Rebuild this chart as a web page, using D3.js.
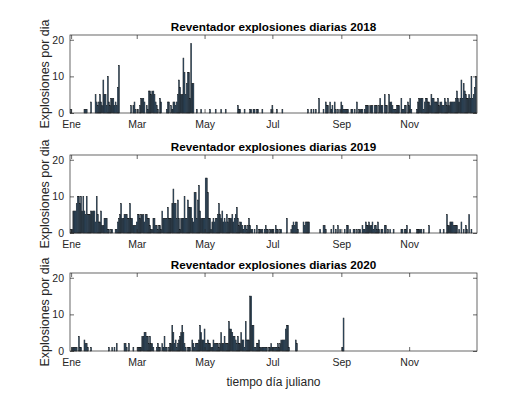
<!DOCTYPE html>
<html><head><meta charset="utf-8">
<script src="https://cdn.jsdelivr.net/npm/d3@7"></script>
<style>body{margin:0;background:#fff}svg{display:block}</style>
</head><body>
<script>
// [day of year, explosions]
const series2018 = [[1,1],[13,1],[14,1],[15,1],[19,3],[23,5],[24,3],[25,2],[26,3],[27,5],[28,3],[29,2],[30,9],[31,5],[32,5],[33,2],[34,10],[35,3],[36,2],[37,4],[38,4],[39,4],[40,2],[41,3],[42,2],[43,7],[44,13],
[55,2],[57,2],[58,3],[59,1],[61,1],[63,2],[64,4],[65,4],[66,4],[67,3],[69,2],[70,1],[71,6],[72,6],[73,5],[74,6],[75,6],[76,5],[77,3],[78,2],[79,1],[81,4],[82,3],[87,1],[88,3],[89,3],[91,2],[92,1],[93,3],[94,3],[95,2],[96,3],[97,5],[98,9],[99,7],[100,5],[101,5],[102,15],[103,11],[104,5],[105,8],[106,11],[107,11],[108,4],[109,19],[110,8],[111,8],
[114,1],[118,1],[126,1],[131,1],[136,1],[140,1],[151,2],[152,1],[153,1],[157,1],[162,1],[163,1],[165,1],[166,1],[168,1],[169,1],[173,1],[181,1],[182,2],[186,1],[191,1],
[214,1],[217,1],[219,1],[221,1],[224,4],[228,1],[230,3],[231,2],[232,2],[234,3],[235,1],[236,2],[238,3],[239,1],[241,1],[243,1],[244,3],[245,2],[246,1],[247,1],[248,1],[249,1],[250,1],[253,1],[254,1],[256,1],[258,3],[260,1],[261,1],[262,1],[263,1],[265,1],[266,2],[267,2],[268,2],[270,2],[271,2],[272,2],[274,2],[275,2],[276,2],[278,2],[279,4],[280,2],[281,2],[283,5],[284,2],[285,2],[287,5],[288,3],[289,3],[290,2],[291,1],[292,1],[293,1],[294,2],[295,2],[296,2],[298,4],[299,1],[300,1],[301,2],[302,2],[304,3],[305,2],[306,4],[307,1],[312,1],[313,3],[314,4],[315,4],[316,4],[317,4],[318,1],[319,3],[320,4],[321,4],[322,3],[323,3],[324,2],[325,5],[326,4],[327,4],[328,3],[329,3],[330,3],[331,4],[332,2],[333,3],[334,3],[335,2],[336,2],[337,4],[338,3],[339,2],[340,4],[341,2],[342,3],[343,3],[344,3],[345,3],[346,3],[347,4],[348,6],[349,4],[350,3],[351,4],[352,9],[353,4],[354,8],[355,6],[356,5],[357,4],[358,4],[359,5],[360,4],[361,10],[362,4],[363,5],[364,7],[365,10]];

const series2019 = [[1,1],[2,1],[3,6],[4,6],[5,6],[6,8],[7,10],[8,10],[9,8],[10,10],[11,6],[12,10],[13,6],[14,5],[15,10],[16,5],[17,5],[18,5],[19,6],[20,6],[21,6],[22,6],[23,3],[24,10],[25,5],[26,3],[27,3],[28,6],[29,2],[30,2],[31,4],[32,4],[33,4],[34,1],[35,1],[37,1],[38,1],[41,1],[42,1],[43,3],[44,4],[45,5],[46,8],[47,4],[48,4],[49,5],[50,5],[51,5],[52,4],[53,4],[54,8],[55,4],[56,4],[57,2],[58,2],[59,2],[60,3],[61,5],[62,5],[63,4],[64,5],[65,5],[66,5],[67,3],[68,5],[69,5],[70,4],[71,4],[72,2],[73,1],[74,1],[75,4],[76,4],[77,2],[78,2],[79,1],[80,2],[81,2],[82,1],[83,6],[84,4],[85,4],[86,4],[87,4],[88,7],[89,4],[90,4],[91,4],[92,8],[93,12],[94,8],[95,8],[96,4],[97,9],[98,4],[99,1],[100,4],[101,4],[102,4],[103,10],[104,4],[105,4],[106,9],[107,7],[108,7],[109,7],[110,4],[111,3],[112,11],[113,11],[114,4],[115,9],[116,13],[117,6],[118,4],[119,4],[120,4],[121,4],[122,15],[123,15],[124,11],[125,4],[126,4],[127,1],[128,3],[129,4],[130,3],[131,4],[132,4],[133,5],[134,8],[135,5],[136,4],[137,6],[138,3],[139,4],[140,3],[141,5],[142,3],[143,4],[144,4],[145,4],[146,5],[147,3],[148,4],[149,5],[150,7],[151,4],[152,2],[153,3],[154,3],[155,2],[156,1],[157,2],[158,2],[159,1],[160,2],[161,4],[162,2],[163,1],[164,1],[166,1],[168,2],[170,1],[171,1],[172,1],[173,1],[175,1],[176,2],[177,1],[178,1],[180,1],[181,1],[182,1],[183,1],[185,2],[186,1],[187,1],[189,1],
[190,1],[195,4],[199,1],[200,2],[201,3],[202,2],[203,3],[204,3],[205,1],[210,3],[211,2],[212,3],[213,3],[214,3],[215,3],
[225,1],[228,2],[229,2],[230,1],[235,1],[237,2],[239,1],[241,2],[243,1],[247,1],[249,2],[250,2],[252,1],[255,1],[256,1],[258,1],[260,1],[261,1],[263,2],[264,1],[265,1],[266,3],[267,2],[268,2],[269,3],[270,2],[271,2],[272,3],[273,1],[274,2],[275,2],[276,1],[277,3],[278,1],[280,1],[281,1],[283,2],[284,2],[286,1],[288,1],[291,1],[298,1],[299,1],[301,1],[302,1],[303,2],[306,1],[312,1],[313,1],[314,1],[315,1],[316,1],[318,1],[323,2],[333,1],[336,1],[339,5],[340,2],[341,2],[342,3],[343,3],[344,3],[345,2],[346,2],[347,2],[348,2],[350,1],[352,3],[354,1],[356,2],[357,1],[359,5],[361,1]];

const series2020 = [[2,1],[3,1],[4,1],[5,1],[6,1],[8,4],[9,1],[10,1],[13,3],[14,2],[15,2],[16,1],[19,1],[35,1],[38,1],[40,1],[42,2],[49,2],[50,2],[51,1],[53,2],[57,1],[61,1],[62,1],[63,1],[64,1],[65,4],[66,4],[67,5],[68,5],[69,4],[70,4],[71,2],[72,4],[73,2],[74,2],[75,1],[78,1],[79,2],[80,1],[81,1],[83,2],[84,1],[85,4],[86,1],[87,1],[89,1],[90,2],[91,2],[92,7],[93,5],[94,2],[95,3],[96,1],[97,2],[98,3],[99,4],[100,5],[101,7],[102,5],[103,2],[104,1],[106,1],[107,1],[108,1],[110,3],[111,2],[112,1],[113,2],[114,2],[115,2],[116,3],[117,7],[118,5],[119,3],[120,3],[121,6],[122,2],[123,2],[124,3],[125,2],[126,2],[127,1],[128,1],[129,3],[130,2],[131,2],[132,2],[133,2],[134,1],[135,2],[136,5],[137,2],[138,2],[139,4],[140,2],[141,2],[142,2],[143,8],[144,6],[145,6],[146,5],[147,4],[148,4],[149,3],[150,2],[151,4],[152,2],[153,2],[154,5],[155,3],[156,3],[157,1],[158,8],[159,3],[160,3],[161,3],[162,15],[163,15],[164,7],[165,7],[166,1],[167,1],[168,2],[169,2],[170,3],[171,1],[172,1],[173,1],[174,1],[175,1],[176,1],[177,1],[179,1],[180,1],[181,2],[182,1],[183,1],[184,1],[185,1],[186,1],[187,2],[188,1],[189,2],[190,3],[191,3],[192,3],[193,3],[194,6],[195,7],[196,7],[197,1],[203,3],[204,2],[245,1],[246,9]];

const years = [2018, 2019, 2020];
const allSeries = [series2018, series2019, series2020];
const monthTickDays = [1, 60, 121, 182, 244, 305];
const monthTickLabels = ["Ene", "Mar", "May", "Jul", "Sep", "Nov"];
const yTicks = [0, 10, 20];
const titlePrefix = "Reventador explosiones diarias ";
const yLabel = "Explosiones por dia";
const xLabel = "tiempo día juliano";

const W = 527, H = 395;
const left = 70, right = 477, panelH = 78;
const tops = [35, 155, 273];
const textColor = "#262626";
const font = "'Liberation Sans', Arial, Helvetica, sans-serif";

const svg = d3.select("body").append("svg").attr("width", W).attr("height", H);

const x = d3.scaleLinear().domain([0, 366]).range([left, right]);
const step = x(1) - x(0);

allSeries.forEach((series, i) => {
  const top = tops[i], bottom = top + panelH;
  const y = d3.scaleLinear().domain([0, 21.3]).range([bottom, top]);
  const g = svg.append("g");

  // bars
  g.append("g").selectAll("rect").data(series).join("rect")
    .attr("x", d => x(d[0]) - step * 0.4)
    .attr("width", step * 0.8)
    .attr("y", d => y(d[1]))
    .attr("height", d => y(0) - y(d[1]))
    .attr("fill", "#4a7eab")
    .attr("stroke", "#000")
    .attr("stroke-width", 0.5);

  // axes (ticks inward)
  const tl = 4;
  const xb = d3.axisBottom(x).tickValues(monthTickDays).tickFormat((d, k) => monthTickLabels[k]).tickSizeInner(-tl).tickSizeOuter(0).tickPadding(8);
  const xt = d3.axisTop(x).tickValues(monthTickDays).tickFormat("").tickSizeInner(-tl).tickSizeOuter(0);
  const yl = d3.axisLeft(y).tickValues(yTicks).tickSizeInner(-tl).tickSizeOuter(0).tickPadding(6);
  const yr = d3.axisRight(y).tickValues(yTicks).tickFormat("").tickSizeInner(-tl).tickSizeOuter(0);

  const styleAxis = sel => {
    sel.select(".domain").remove();
    sel.selectAll("line").attr("stroke", textColor).attr("stroke-width", 0.7);
    sel.selectAll("text").attr("fill", textColor).attr("font-family", font).attr("font-size", 10.5);
  };
  g.append("g").attr("transform", `translate(0,${bottom})`).call(xb).call(styleAxis);
  g.append("g").attr("transform", `translate(0,${top})`).call(xt).call(styleAxis);
  g.append("g").attr("transform", `translate(${left},0)`).call(yl).call(styleAxis);
  g.append("g").attr("transform", `translate(${right},0)`).call(yr).call(styleAxis);

  g.append("rect").attr("x", left).attr("y", top).attr("width", right - left).attr("height", panelH)
    .attr("fill", "none").attr("stroke", textColor).attr("stroke-width", 0.7);

  g.append("text").attr("x", (left + right) / 2).attr("y", top - 4)
    .attr("text-anchor", "middle").attr("font-family", font).attr("font-size", 11.7)
    .attr("font-weight", "bold").attr("fill", "#000").text(titlePrefix + years[i]);

  g.append("text").attr("transform", `translate(${49},${(top + bottom) / 2}) rotate(-90)`)
    .attr("text-anchor", "middle").attr("font-family", font).attr("font-size", 12.5)
    .attr("fill", textColor).text(yLabel);
});

svg.append("text").attr("x", (left + right) / 2).attr("y", 386)
  .attr("text-anchor", "middle").attr("font-family", font).attr("font-size", 12)
  .attr("fill", textColor).text(xLabel);
</script>
</body></html>
